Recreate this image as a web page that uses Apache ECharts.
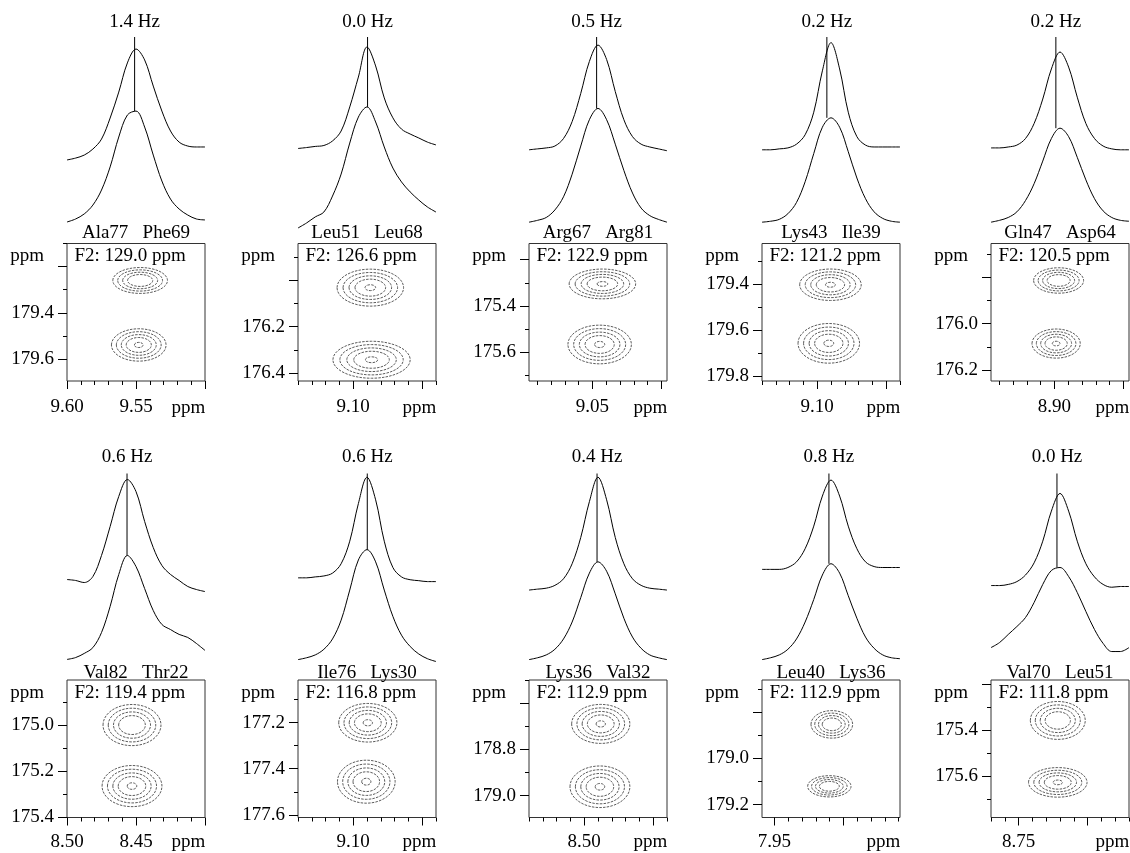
<!DOCTYPE html>
<html><head><meta charset="utf-8">
<script src="https://cdn.jsdelivr.net/npm/echarts@6/dist/echarts.min.js"></script>
<style>html,body{margin:0;padding:0;background:#fff}#c{width:1130px;height:853px}</style>
</head><body><div id="c"></div>
<script>
// ---------- data ----------
const hzLabels = ['1.4 Hz','0.0 Hz','0.5 Hz','0.2 Hz','0.2 Hz','0.6 Hz','0.6 Hz','0.4 Hz','0.8 Hz','0.0 Hz'];
const residueLeft = ['Ala77','Leu51','Arg67','Lys43','Gln47','Val82','Ile76','Lys36','Leu40','Val70'];
const residueRight = ['Phe69','Leu68','Arg81','Ile39','Asp64','Thr22','Lys30','Val32','Lys36','Leu51'];
const f2Labels = ['F2: 129.0 ppm','F2: 126.6 ppm','F2: 122.9 ppm','F2: 121.2 ppm','F2: 120.5 ppm',
                  'F2: 119.4 ppm','F2: 116.8 ppm','F2: 112.9 ppm','F2: 112.9 ppm','F2: 111.8 ppm'];
const xRanges = [[9.50,9.60],[9.04,9.14],[8.996,9.096],[9.04,9.14],[8.846,8.946],
                 [8.40,8.50],[9.04,9.14],[8.44,8.54],[7.859,7.959],[8.67,8.77]];
const yMins = [179.1,175.84,175.13,179.225,175.653,174.805,177.016,178.5,178.661,175.183];
const ySpan = 0.595;
const xTickLabels = [[9.60,9.55],[9.10],[9.05],[9.10],[8.90],[8.50,8.45],[9.10],[8.50],[7.95],[8.75]];
const yTickLabels = [[179.4,179.6],[176.2,176.4],[175.4,175.6],[179.4,179.6,179.8],[176.0,176.2],
                     [175.0,175.2,175.4],[177.2,177.4,177.6],[178.8,179.0],[179.0,179.2],[175.4,175.6]];
const lineX = [9.551,9.0896,9.047,9.093,8.899,8.4565,9.0898,8.4907,7.9105,8.7222];
// 1D traces: intensity at 17 points evenly spread across each panel's ppm window (left to right)
const upperTraces = [
 [34.6,35.6,37.2,40.4,45.7,56.9,70.7,86.2,93.6,87.8,73.9,60.6,50,44.1,42,41.5,41.5],
 [40.7,41.2,41.8,42.3,44.7,50,62.8,78.7,94.7,84.6,67.6,57,51,48.4,46.3,44.1,42.6],
 [40,40.5,41,42,46,55,70,87,95.7,88,71,56,47,43,41.5,40.5,39.5],
 [40,40,40.5,41,43,48,60,82,97,83,60,47,42.5,41.5,41.5,41.5,41.5],
 [41,41,41.5,42.5,46,54,67,83,92,84,68,54,46,42,40.5,40,40],
 [43.6,43.1,42,45.2,56.4,71.8,87.8,96.8,90.4,74.5,60.6,51.1,46.3,43.1,39.9,38.3,37.2],
 [44.5,44.5,45,45.5,47,52,64,84,98,86,64,50,45,43.5,43,42.5,42.5],
 [38,38.5,39,40.5,44,52,66,85,98,86,66,52,44,40.5,39,38.5,38],
 [49,49,49,50,53,60,72,88,96.5,88,72,60,53,50.5,50,50,50],
 [40.4,40.4,41,42.5,46,52.5,64,80,89.4,80,64,52,45,41,39.5,39.9,39.9]
];
const lowerTraces = [
 [1.6,3.2,5.9,10.6,18.6,30.9,46.8,58.5,60.6,52.1,37.2,23.4,13.8,8.5,5.3,3.2,2.7],
 [-1.6,1.1,4.3,6.9,15.4,27.1,43.6,57.4,62.8,54.8,41.5,30.3,22.9,17.6,13.3,9.6,6.9],
 [1.5,2.5,4,8,15,27,42,56,62,56,43,29,17,9,5,3,1.5],
 [1.5,2,3,6,12,23,38,52,57,52,39,25,14,7,3.5,2,1.5],
 [1.5,2.5,4,7,13,22,34,46,51.5,47,36,24,14,7.5,4,2.5,2],
 [1.1,2.1,4.3,7.4,15.4,29.3,46.3,56.4,50.5,38.8,27.1,19.7,17,14.4,12.8,9.6,5.9],
 [1,2,3.5,6.5,12,22,38,54,59.5,53,38,24,14,8,4,1.5,0],
 [1,2,3.5,6.5,12,21,34,47,53,48,36,23,13,7,3.5,2,1],
 [1,2,3.5,6.5,12,21,33,46,52,47,35,23,13,7,3.5,2,1.5],
 [7.4,10.1,14.4,18.6,23.4,31.4,41,48.4,50,45.2,36.7,26.6,17,9.6,5.3,5.3,7.4]
];
// 2D cross peaks (upper, lower) per panel
const peakX = [[9.547,9.548],[9.0876,9.0867],[9.0428,9.0448],[9.0904,9.0916],[8.897,8.8988],
               [8.4529,8.4529],[9.0894,9.0905],[8.488,8.4886],[7.9084,7.9102],[8.7216,8.7216]];
const peakY = [[179.26,179.539],[176.031,176.343],[175.305,175.567],[179.4035,179.657],[175.813,176.086],
               [175.0,175.264],[177.201,177.456],[178.69,178.962],[178.853,179.121],[175.358,175.626]];
const peakRX = [[0.0198,0.0198],[0.0241,0.028],[0.0241,0.023],[0.0223,0.0223],[0.0181,0.0175],
                [0.021,0.0217],[0.0211,0.0209],[0.0211,0.0217],[0.0151,0.0157],[0.0199,0.0212]];
const peakRY = [[0.056,0.070],[0.080,0.080],[0.0644,0.0837],[0.068,0.0858],[0.055,0.063],
                [0.089,0.089],[0.0835,0.093],[0.0844,0.09],[0.0595,0.046],[0.082,0.064]];
const ringCounts = [[4,5],[5,5],[5,5],[5,5],[4,5],[4,5],[5,5],[5,5],[4,4],[4,5]];
const ringScales = [1,0.82,0.64,0.46,0.16];

// ---------- layout ----------
const FONT = "'Liberation Serif','Times New Roman','DejaVu Serif',serif";
const FS = 19;
const colLeft = [67,298,529,762,991], rowTop = [243.5,680], boxW = 138, boxH = 137.5;
const traceTopOffset = 206.5, traceH = 197.4;
const xLabelMargin = [17,15];
const residueOffset = [10,7];
const hzLabelY = [21.7,457];

function ticks(min,max,step,skip){
  const out=[]; const n0=Math.ceil(min/step-1e-6), n1=Math.floor(max/step+1e-6);
  for(let n=n0;n<=n1;n++){
    const v=+(n*step).toFixed(4);
    if(skip){const q=v/skip; if(Math.abs(q-Math.round(q))<1e-6) continue;}
    out.push(v);
  }
  return out;
}

const grid=[], xAxis=[], yAxis=[], series=[], graphic=[];
const ts={fontSize:FS, fontFamily:FONT, fill:'#000'};
for(let p=0;p<10;p++){
  const r = p<5?0:1, c=p%5, L=colLeft[c], T=rowTop[r];
  const xmin=xRanges[p][0], xmax=xRanges[p][1];
  const ymin=yMins[p], ymax=+(ymin+ySpan).toFixed(4);
  grid.push({left:L, top:T, width:boxW, height:boxH, show:true, borderColor:'#333', borderWidth:1});
  grid.push({left:L, top:T-traceTopOffset, width:boxW, height:traceH, show:false});
  const gb=2*p, gt=2*p+1;
  const lab = {fontSize:FS, fontFamily:FONT, color:'#000'};
  xAxis.push({type:'value', gridIndex:gb, min:xmin, max:xmax, inverse:true, position:'bottom',
    axisLine:{show:false}, splitLine:{show:false},
    axisTick:{show:true, customValues:ticks(xmin,xmax,0.05), length:8, lineStyle:{color:'#000'}},
    axisLabel:Object.assign({show:true, customValues:xTickLabels[p], formatter:v=>(+v).toFixed(2), margin:xLabelMargin[r]}, lab)});
  xAxis.push({type:'value', gridIndex:gb, min:xmin, max:xmax, inverse:true, position:'bottom',
    axisLine:{show:false}, splitLine:{show:false},
    axisTick:{show:true, customValues:ticks(xmin,xmax,0.01,0.05), length:4, lineStyle:{color:'#000'}},
    axisLabel:{show:false}});
  xAxis.push({type:'value', gridIndex:gt, min:xmin, max:xmax, inverse:true, show:false});
  yAxis.push({type:'value', gridIndex:gb, min:ymin, max:ymax, inverse:true, position:'left',
    axisLine:{show:false}, splitLine:{show:false},
    axisTick:{show:true, customValues:ticks(ymin,ymax,0.2), length:9, lineStyle:{color:'#000'}},
    axisLabel:Object.assign({show:true, customValues:yTickLabels[p], formatter:v=>(+v).toFixed(1), margin:13}, lab)});
  yAxis.push({type:'value', gridIndex:gb, min:ymin, max:ymax, inverse:true, position:'left',
    axisLine:{show:false}, splitLine:{show:false},
    axisTick:{show:true, customValues:ticks(ymin,ymax,0.1,0.2), length:4, lineStyle:{color:'#000'}},
    axisLabel:{show:false}});
  yAxis.push({type:'value', gridIndex:gt, min:-5, max:100, show:false});

  const xi=3*p, ti=3*p+2;
  const rings=[];
  for(let k=0;k<2;k++){
    for(let j=0;j<ringCounts[p][k];j++){
      rings.push([peakX[p][k], peakY[p][k], peakRX[p][k]*ringScales[j], peakRY[p][k]*ringScales[j]]);
    }
  }
  series.push({type:'custom', xAxisIndex:xi, yAxisIndex:xi, data:rings, silent:true, clip:true,
    renderItem:function(params, api){
      const ctr=[api.value(0), api.value(1)];
      const pt=api.coord(ctr);
      const sz=api.size([api.value(2)*2, api.value(3)*2], ctr);
      return {type:'ellipse', shape:{cx:pt[0], cy:pt[1], rx:sz[0]/2, ry:sz[1]/2},
        style:{fill:'none', stroke:'#4a4a4a', lineWidth:0.9, lineDash:[2.5,1.2]}};
    }});
  const n=upperTraces[p].length;
  const xs=upperTraces[p].map((v,k)=>xmax-k*(xmax-xmin)/(n-1));
  const ls={color:'#000', width:1};
  series.push({type:'line', xAxisIndex:ti, yAxisIndex:ti, data:xs.map((x,k)=>[x,upperTraces[p][k]]),
    smooth:0.35, showSymbol:false, symbol:'none', lineStyle:ls, silent:true});
  series.push({type:'line', xAxisIndex:ti, yAxisIndex:ti, data:xs.map((x,k)=>[x,lowerTraces[p][k]]),
    smooth:0.35, showSymbol:false, symbol:'none', lineStyle:ls, silent:true});
  const lowPeak=Math.max.apply(null, lowerTraces[p]);
  series.push({type:'line', xAxisIndex:ti, yAxisIndex:ti, data:[[lineX[p],100],[lineX[p],lowPeak]],
    showSymbol:false, symbol:'none', lineStyle:ls, silent:true});

  graphic.push({type:'text', x:L+7.5, y:T+13, silent:true,
    style:Object.assign({text:f2Labels[p], align:'left', verticalAlign:'middle'}, ts)});
  graphic.push({type:'text', x:L-23, y:T+13, silent:true,
    style:Object.assign({text:'ppm', align:'right', verticalAlign:'middle'}, ts)});
  graphic.push({type:'text', x:L+boxW-16.5, y:T+boxH+xLabelMargin[r]+10, silent:true,
    style:Object.assign({text:'ppm', align:'center', verticalAlign:'middle'}, ts)});
  graphic.push({type:'text', x:L+boxW/2, y:T-residueOffset[r], silent:true,
    style:Object.assign({text:residueLeft[p]+'   '+residueRight[p], align:'center', verticalAlign:'middle'}, ts)});
}

const chart = echarts.init(document.getElementById('c'));
chart.setOption({animation:false, backgroundColor:'#fff', grid, xAxis, yAxis, series, graphic});
// Hz labels placed above each marker line, positioned through the trace x-axis
for(let p=0;p<10;p++){
  const r = p<5?0:1;
  const px = chart.convertToPixel({xAxisIndex:3*p+2}, lineX[p]);
  graphic.push({type:'text', x:px, y:hzLabelY[r], silent:true,
    style:Object.assign({text:hzLabels[p], align:'center', verticalAlign:'middle'}, ts)});
}
chart.setOption({graphic});
</script>
</body></html>
